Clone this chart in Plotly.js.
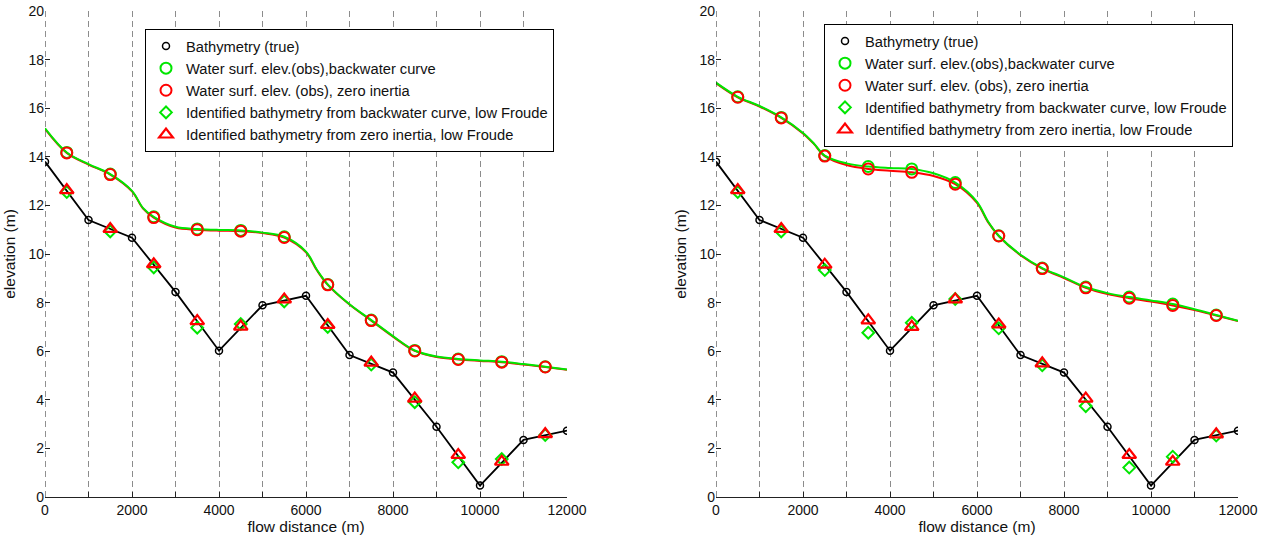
<!DOCTYPE html>
<html>
<head>
<meta charset="utf-8">
<script src="https://cdn.plot.ly/plotly-3.0.1.min.js"></script>
<style>html,body{margin:0;padding:0;background:#fff;}#chart{width:1271px;height:536px;}</style>
</head>
<body>
<div id="chart"></div>
<script>
// ---------- data ----------
const xBathy = [0,1000,2000,3000,4000,5000,6000,7000,8000,9000,10000,11000,12000];
const bathyTrue = [13.8,11.4,10.67,8.44,6.02,7.89,8.28,5.84,5.12,2.89,0.47,2.35,2.73];

const xObs = [500,1500,2500,3500,4500,5500,6500,7500,8500,9500,10500,11500];

const xCurve = [0,500,1000,1500,2000,2250,2500,3000,3500,4000,4500,5000,5500,6000,6250,6500,7000,7500,8000,8500,9000,9500,10000,10500,11000,11500,12000];

// Left panel
const wseBackwaterL = [15.17,14.18,13.7,13.29,12.6,11.9,11.53,11.12,11.03,10.99,10.97,10.88,10.71,10.1,9.35,8.75,7.93,7.28,6.62,6.03,5.78,5.68,5.62,5.57,5.47,5.36,5.25];
const wseZeroInertiaL = [15.15,14.16,13.68,13.27,12.58,11.88,11.5,11.09,11.0,10.96,10.94,10.86,10.68,10.07,9.33,8.73,7.92,7.26,6.6,6.01,5.76,5.66,5.6,5.55,5.45,5.35,5.24];
const obsBackwaterL = [14.18,13.29,11.53,11.03,10.97,10.71,8.75,7.28,6.03,5.68,5.57,5.36];
const obsZeroInertiaL = [14.16,13.27,11.5,11.0,10.94,10.68,8.73,7.26,6.01,5.66,5.55,5.35];
const idBackwaterL = [12.55,10.93,9.45,6.97,7.12,8.05,7.0,5.45,3.9,1.43,1.56,2.55];
const idZeroInertiaL = [12.63,11.03,9.58,7.24,7.01,8.13,7.08,5.53,4.05,1.73,1.45,2.59];

// Right panel
const wseBackwaterR = [17.05,16.47,16.09,15.62,14.98,14.55,14.05,13.73,13.6,13.54,13.5,13.32,12.94,12.15,11.35,10.75,9.97,9.42,9.04,8.64,8.39,8.23,8.09,7.94,7.73,7.49,7.25];
const wseZeroInertiaR = [17.03,16.45,16.07,15.6,14.96,14.53,14.03,13.66,13.5,13.43,13.36,13.21,12.87,12.1,11.32,10.74,9.95,9.4,9.01,8.61,8.35,8.18,8.04,7.88,7.69,7.47,7.24];
const obsBackwaterR = [16.47,15.62,14.05,13.6,13.5,12.94,10.75,9.42,8.64,8.23,7.94,7.49];
const obsZeroInertiaR = [16.45,15.6,14.03,13.5,13.36,12.87,10.74,9.4,8.61,8.18,7.88,7.47];
const idBackwaterR = [12.55,10.93,9.34,6.76,7.17,8.15,6.94,5.42,3.74,1.21,1.66,2.53];
const idZeroInertiaR = [12.63,11.03,9.56,7.27,7.0,8.13,7.1,5.5,4.05,1.73,1.45,2.58];

const names = ['Bathymetry (true)','Water surf. elev.(obs),backwater curve','Water surf. elev. (obs), zero inertia','Identified bathymetry from backwater curve, low Froude','Identified bathymetry from zero inertia, low Froude'];
const xTickVals = [0,1000,2000,3000,4000,5000,6000,7000,8000,9000,10000,11000,12000];
const xTickText = ['0','','2000','','4000','','6000','','8000','','10000','','12000'];
const yTickVals = [0,2,4,6,8,10,12,14,16,18,20];

// ---------- traces ----------
const GREEN = '#00e600', RED = '#ff0000';
function panel(xa, ya, leg, wB, wZ, oB, oZ, iB, iZ){
  return [
    {x:xCurve, y:wZ, xaxis:xa, yaxis:ya, mode:'lines', line:{color:RED, width:2, shape:'spline', smoothing:1}, showlegend:false, hoverinfo:'skip'},
    {x:xCurve, y:wB, xaxis:xa, yaxis:ya, mode:'lines', line:{color:GREEN, width:2, shape:'spline', smoothing:1}, showlegend:false, hoverinfo:'skip'},
    {x:xBathy, y:bathyTrue, xaxis:xa, yaxis:ya, mode:'lines', line:{color:'#000', width:1.8}, showlegend:false},
    {x:xBathy, y:bathyTrue, xaxis:xa, yaxis:ya, mode:'markers', name:names[0], legend:leg,
      marker:{symbol:'circle-open', size:7, color:'#000', line:{width:1.5, color:'#000'}}},
    {x:xObs, y:oB, xaxis:xa, yaxis:ya, mode:'markers', name:names[1], legend:leg,
      marker:{symbol:'circle-open', size:11, color:GREEN, line:{width:2, color:GREEN}}},
    {x:xObs, y:oZ, xaxis:xa, yaxis:ya, mode:'markers', name:names[2], legend:leg,
      marker:{symbol:'circle-open', size:11, color:RED, line:{width:2, color:RED}}},
    {x:xObs, y:iB, xaxis:xa, yaxis:ya, mode:'markers', name:names[3], legend:leg,
      marker:{symbol:'diamond-open', size:9, color:GREEN, line:{width:2, color:GREEN}}},
    {x:xObs, y:iZ, xaxis:xa, yaxis:ya, mode:'markers', name:names[4], legend:leg,
      marker:{symbol:'triangle-up-open', size:12, color:RED, line:{width:2.2, color:RED}}}
  ];
}
const data = [].concat(
  panel('x','y','legend', wseBackwaterL, wseZeroInertiaL, obsBackwaterL, obsZeroInertiaL, idBackwaterL, idZeroInertiaL),
  panel('x2','y2','legend2', wseBackwaterR, wseZeroInertiaR, obsBackwaterR, obsZeroInertiaR, idBackwaterR, idZeroInertiaR)
);

// ---------- layout ----------
const FONT = 'Liberation Sans, Arial, Helvetica, sans-serif';
function xAxis(domain, anchor){
  return {domain:domain, anchor:anchor, range:[0,12000], tickmode:'array', tickvals:xTickVals, ticktext:xTickText,
    ticks:'inside', ticklen:5, tickcolor:'#222', showline:true, linecolor:'#222', linewidth:1,
    showgrid:true, gridcolor:'#8c8c8c', griddash:'6px,4px', gridwidth:1, zeroline:false,
    tickfont:{family:FONT, size:14, color:'#111'},
    title:{text:'flow distance (m)', font:{family:FONT, size:15.5, color:'#111'}, standoff:0}};
}
function yAxis(anchor){
  return {domain:[0,1], anchor:anchor, range:[0,20], tickmode:'array', tickvals:yTickVals,
    ticks:'inside', ticklen:5, tickcolor:'#222', showline:false, showgrid:false, zeroline:false,
    tickfont:{family:FONT, size:14, color:'#111'},
    title:{text:'elevation (m)', font:{family:FONT, size:15.5, color:'#111'}, standoff:8}};
}
function legendBox(x, y){
  return {x:x, y:y, xanchor:'left', yanchor:'top', bgcolor:'#fff', bordercolor:'#000', borderwidth:1,
    font:{family:FONT, size:14.7, color:'#111'}, traceorder:'normal', itemwidth:30};
}
const layout = {
  width:1271, height:536, margin:{l:0, r:0, t:11, b:39},
  paper_bgcolor:'#fff', plot_bgcolor:'#fff', showlegend:true,
  xaxis: xAxis([45/1271, 567/1271], 'y'),
  yaxis: yAxis('x'),
  xaxis2: xAxis([716/1271, 1238/1271], 'y2'),
  yaxis2: yAxis('x2'),
  legend: legendBox(145/1271, 1-18/486),
  legend2: legendBox(824/1271, 1-13/486),
  shapes:[
    {type:'line', xref:'x', yref:'y', x0:0, x1:0, y0:0, y1:20, line:{color:'#222', width:1, dash:'6px,4px'}},
    {type:'line', xref:'x2', yref:'y2', x0:0, x1:0, y0:0, y1:20, line:{color:'#222', width:1, dash:'6px,4px'}}
  ]
};
Plotly.newPlot('chart', data, layout, {staticPlot:true, displayModeBar:false});
</script>
</body>
</html>
